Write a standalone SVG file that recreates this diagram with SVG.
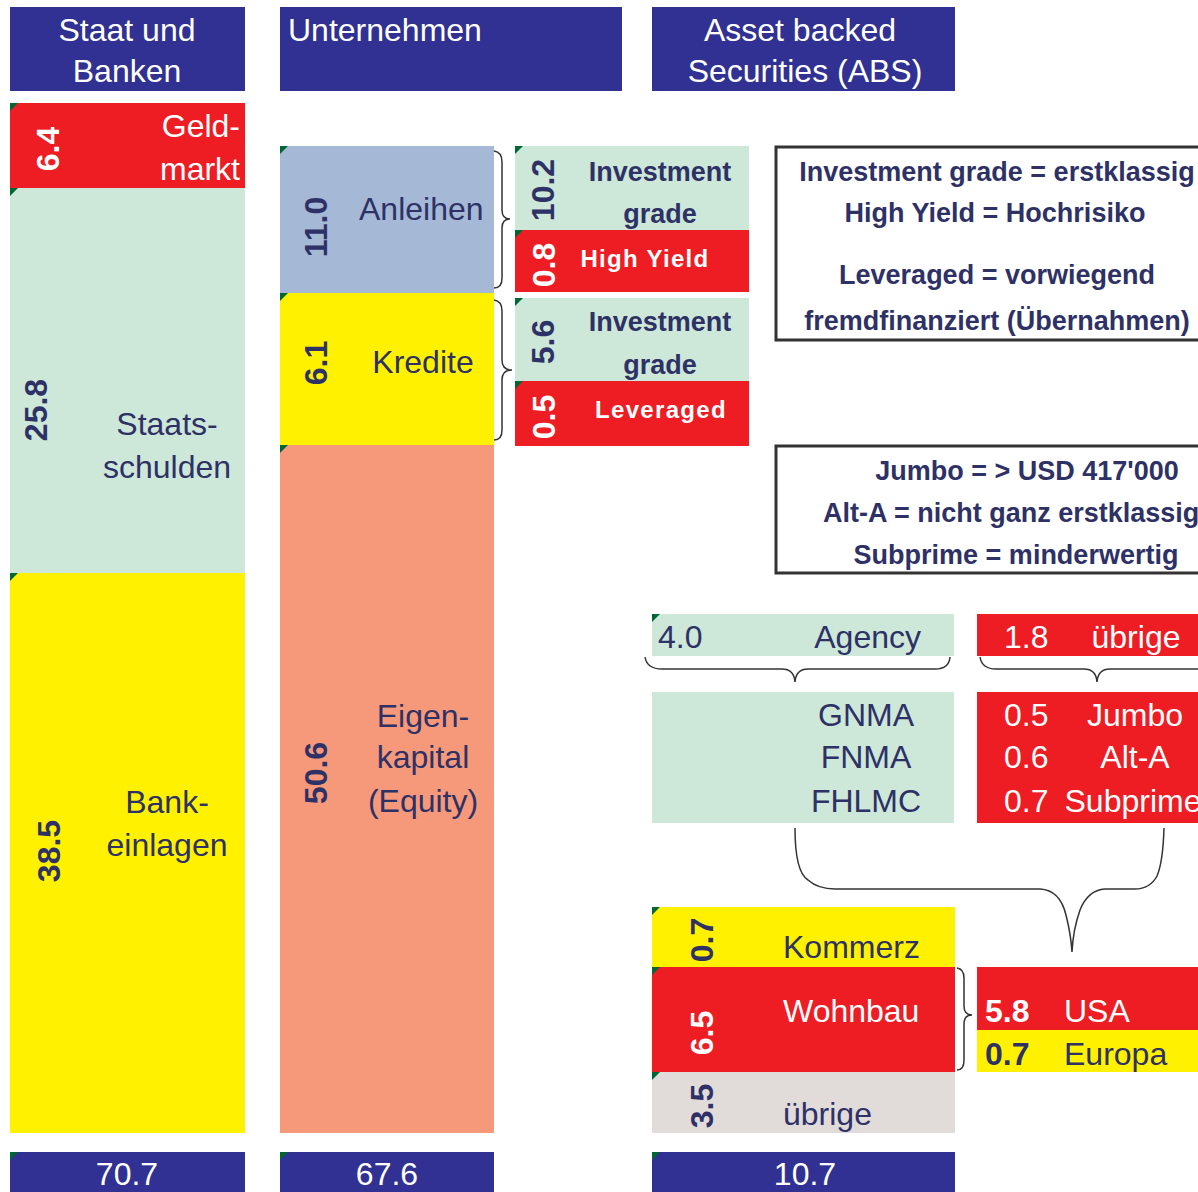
<svg xmlns="http://www.w3.org/2000/svg" width="1198" height="1192" viewBox="0 0 1198 1192">
<style>
text{font-family:"Liberation Sans",Arial,sans-serif;font-size:32px;fill:#2e3166}
.w{fill:#ffffff}
.b{font-weight:bold}
.m{text-anchor:middle}
.e{text-anchor:end}
.s{font-size:27px;font-weight:bold}
.sp{font-size:24px;font-weight:bold;letter-spacing:1.3px;fill:#ffffff}
.hd{fill:#303192}
.red{fill:#ee1d23}
.grn{fill:#cde7d8}
.yel{fill:#fff100}
.sal{fill:#f6997a}
.blu{fill:#a5b8d6}
.gry{fill:#e1dcda}
.mk{fill:#006633}
.box{fill:none;stroke:#333333;stroke-width:3}
.br{fill:none;stroke:#333333;stroke-width:1.5}
</style>
<defs>
<polygon id="mark" class="mk" points="0,0 8,0 0,8"/>
</defs>
<rect width="1198" height="1192" fill="#ffffff"/>

<g id="header-staat">
<rect class="hd" x="10" y="7" width="235" height="84"/>
<text class="w m" x="127" y="41">Staat und</text>
<text class="w m" x="127" y="82">Banken</text>
</g>
<g id="header-unternehmen">
<rect class="hd" x="280" y="7" width="342" height="84"/>
<text class="w" x="288" y="41">Unternehmen</text>
</g>
<g id="header-abs">
<rect class="hd" x="652" y="7" width="303" height="84"/>
<text class="w m" x="800" y="41">Asset backed</text>
<text class="w m" x="805" y="82">Securities (ABS)</text>
</g>

<g id="geldmarkt">
<rect class="red" x="10" y="103" width="235" height="85"/>
<use href="#mark" x="10" y="103"/>
<text class="w b m" transform="translate(59,149) rotate(-90)">6.4</text>
<text class="w e" x="240" y="137">Geld-</text>
<text class="w e" x="240" y="180">markt</text>
</g>
<g id="staatsschulden">
<rect class="grn" x="10" y="188" width="235" height="385"/>
<use href="#mark" x="10" y="188"/>
<text class="b m" transform="translate(47,410) rotate(-90)">25.8</text>
<text class="m" x="167" y="435">Staats-</text>
<text class="m" x="167" y="478">schulden</text>
</g>
<g id="bankeinlagen">
<rect class="yel" x="10" y="573" width="235" height="560"/>
<use href="#mark" x="10" y="573"/>
<text class="b m" transform="translate(60,851) rotate(-90)">38.5</text>
<text class="m" x="167" y="813">Bank-</text>
<text class="m" x="167" y="856">einlagen</text>
</g>
<g id="total-staat">
<rect class="hd" x="10" y="1152" width="235" height="40"/>
<use href="#mark" x="10" y="1152"/>
<text class="w m" x="127" y="1185">70.7</text>
</g>

<g id="anleihen">
<rect class="blu" x="280" y="146" width="214" height="147"/>
<use href="#mark" x="280" y="146"/>
<text class="b m" transform="translate(327,227) rotate(-90)">11.0</text>
<text x="359" y="220">Anleihen</text>
</g>
<g id="kredite">
<rect class="yel" x="280" y="293" width="214" height="152"/>
<use href="#mark" x="280" y="293"/>
<text class="b m" transform="translate(327,363) rotate(-90)">6.1</text>
<text class="m" x="423" y="373">Kredite</text>
</g>
<g id="eigenkapital">
<rect class="sal" x="280" y="445" width="214" height="688"/>
<use href="#mark" x="280" y="445"/>
<text class="b m" transform="translate(327,773) rotate(-90)">50.6</text>
<text class="m" x="423" y="727">Eigen-</text>
<text class="m" x="423" y="768">kapital</text>
<text class="m" x="423" y="812">(Equity)</text>
</g>
<g id="total-unternehmen">
<rect class="hd" x="280" y="1152" width="214" height="40"/>
<use href="#mark" x="280" y="1152"/>
<text class="w m" x="387" y="1185">67.6</text>
</g>

<g id="anleihen-ig">
<rect class="grn" x="515" y="146" width="234" height="84"/>
<use href="#mark" x="515" y="146"/>
<text class="b m" transform="translate(554,190) rotate(-90)">10.2</text>
<text class="s m" x="660" y="181">Investment</text>
<text class="s m" x="660" y="223">grade</text>
</g>
<g id="anleihen-hy">
<rect class="red" x="515" y="230" width="234" height="62"/>
<use href="#mark" x="515" y="230"/>
<text class="w b m" transform="translate(555,265) rotate(-90)">0.8</text>
<text class="sp m" x="645" y="267">High Yield</text>
</g>
<g id="kredite-ig">
<rect class="grn" x="515" y="298" width="234" height="83"/>
<use href="#mark" x="515" y="298"/>
<text class="b m" transform="translate(554,342) rotate(-90)">5.6</text>
<text class="s m" x="660" y="331">Investment</text>
<text class="s m" x="660" y="374">grade</text>
</g>
<g id="kredite-lev">
<rect class="red" x="515" y="381" width="234" height="65"/>
<use href="#mark" x="515" y="381"/>
<text class="w b m" transform="translate(555,417) rotate(-90)">0.5</text>
<text class="sp m" x="661" y="418">Leveraged</text>
</g>

<g id="legend-ratings">
<rect class="box" x="776" y="147" width="430" height="193"/>
<text class="s m" x="997" y="181">Investment grade = erstklassig</text>
<text class="s m" x="995" y="222">High Yield = Hochrisiko</text>
<text class="s m" x="997" y="284">Leveraged = vorwiegend</text>
<text class="s m" x="997" y="330">fremdfinanziert (Übernahmen)</text>
</g>
<g id="legend-mortgage">
<rect class="box" x="776" y="446" width="430" height="127"/>
<text class="s m" x="1027" y="480">Jumbo = &gt; USD 417'000</text>
<text class="s" x="823" y="522">Alt-A = nicht ganz erstklassig</text>
<text class="s m" x="1016" y="564">Subprime = minderwertig</text>
</g>

<g id="agency">
<rect class="grn" x="652" y="614" width="302" height="42"/>
<use href="#mark" x="652" y="614"/>
<text x="658" y="648">4.0</text>
<text class="e" x="921" y="648">Agency</text>
</g>
<g id="uebrige-mbs">
<rect class="red" x="977" y="614" width="221" height="42"/>
<text class="w" x="1004" y="648">1.8</text>
<text class="w m" x="1136" y="648">übrige</text>
</g>
<g id="agency-detail">
<rect class="grn" x="652" y="692" width="302" height="131"/>
<text class="m" x="866" y="726">GNMA</text>
<text class="m" x="866" y="768">FNMA</text>
<text class="m" x="866" y="812">FHLMC</text>
</g>
<g id="uebrige-detail">
<rect class="red" x="977" y="692" width="221" height="131"/>
<text class="w" x="1004" y="726">0.5</text>
<text class="w m" x="1135" y="726">Jumbo</text>
<text class="w" x="1004" y="768">0.6</text>
<text class="w m" x="1135" y="768">Alt-A</text>
<text class="w" x="1004" y="812">0.7</text>
<text class="w m" x="1133" y="812">Subprime</text>
</g>

<g id="kommerz">
<rect class="yel" x="652" y="907" width="303" height="60"/>
<use href="#mark" x="652" y="907"/>
<text class="b m" transform="translate(713,940) rotate(-90)">0.7</text>
<text x="783" y="958">Kommerz</text>
</g>
<g id="wohnbau">
<rect class="red" x="652" y="967" width="303" height="105"/>
<use href="#mark" x="652" y="967"/>
<text class="w b m" transform="translate(713,1033) rotate(-90)">6.5</text>
<text class="w" x="783" y="1022">Wohnbau</text>
</g>
<g id="uebrige-abs">
<rect class="gry" x="652" y="1072" width="303" height="61"/>
<use href="#mark" x="652" y="1072"/>
<text class="b m" transform="translate(713,1106) rotate(-90)">3.5</text>
<text x="783" y="1125">übrige</text>
</g>
<g id="total-abs">
<rect class="hd" x="652" y="1152" width="303" height="40"/>
<use href="#mark" x="652" y="1152"/>
<text class="w m" x="805" y="1185">10.7</text>
</g>
<g id="usa">
<rect class="red" x="977" y="967" width="221" height="63"/>
<text class="w b" x="985" y="1022">5.8</text>
<text class="w" x="1064" y="1022">USA</text>
</g>
<g id="europa">
<rect class="yel" x="977" y="1030" width="221" height="42"/>
<text class="b" x="985" y="1065">0.7</text>
<text x="1064" y="1065">Europa</text>
</g>

<g id="connectors">
<path class="br" d="M494,151 Q502,152 502,162 L502,210 Q502,219 510,219 Q502,219 502,228 L502,278 Q502,288 494,288"/>
<path class="br" d="M494,300 Q502,301 502,311 L502,360 Q502,370 512,370 Q502,370 502,380 L502,430 Q502,440 494,440"/>
<path class="br" d="M645,657 Q647,669 662,669 L782,669 Q794,669 795,682 Q796,669 808,669 L935,669 Q949,669 950,657"/>
<path class="br" d="M980,657 Q982,669 996,669 L1084,669 Q1096,669 1097,682 Q1098,669 1110,669 L1200,669"/>
<path class="br" d="M957,968 Q964,969 964,978 L964,1006 Q964,1015 972,1015 Q964,1015 964,1024 L964,1060 Q964,1070 957,1070"/>
<path class="br" d="M795,828 Q795,872 808,880 Q818,889 835,889 L1040,889 Q1060,890 1066,915 Q1071,935 1072,952 Q1073,930 1080,910 Q1088,890 1105,889 L1135,889 Q1150,889 1157,876 Q1163,862 1164,828"/>
</g>
</svg>
